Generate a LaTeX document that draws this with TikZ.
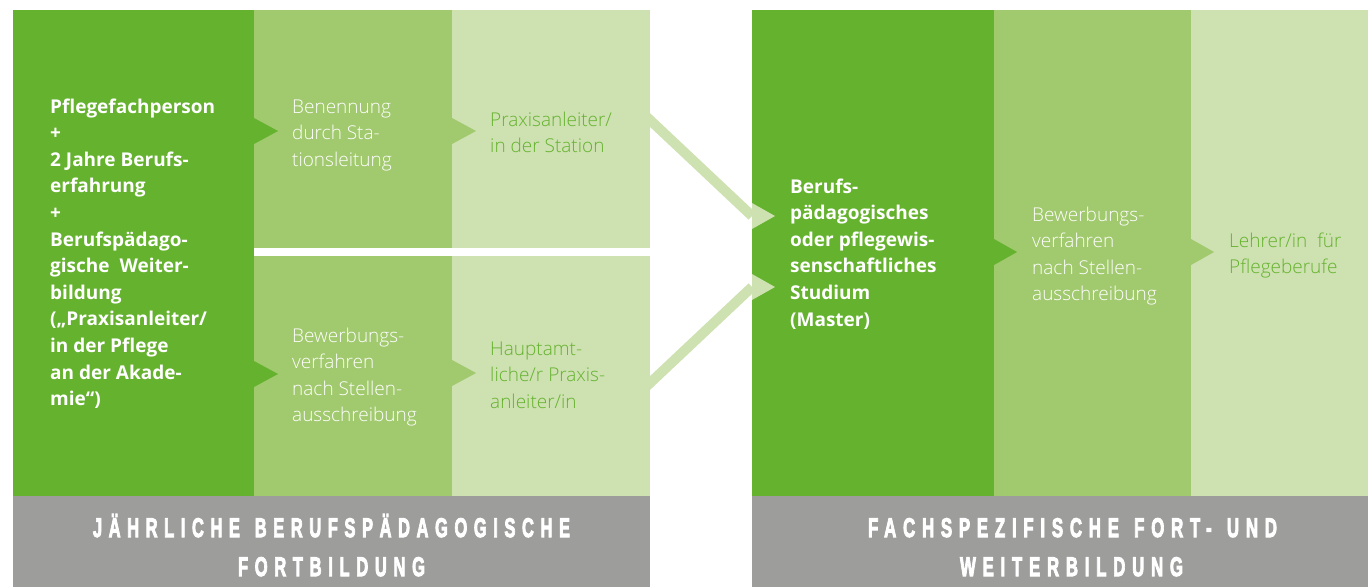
\documentclass[tikz,border=0pt]{standalone}
\usepackage{fontspec}
\usepackage{graphicx}
\setmainfont{Open Sans}
\IfFontExistsTF{Open Sans Light}{\newfontfamily\lightfont{Open Sans Light}}{\newfontfamily\lightfont{Open Sans}}
\newfontfamily\bannerfont[LetterSpace=40,FakeBold=4]{Liberation Sans Bold}
\definecolor{gDark}{HTML}{65B22E}
\definecolor{gMid}{HTML}{A1C96E}
\definecolor{gLight}{HTML}{CDE1B1}
\definecolor{bGray}{HTML}{9D9D9C}
\newcommand{\stack}[1]{\vtop{\baselineskip=26.6pt\lineskiplimit=-100pt\lineskip=0pt\halign{##\hfil\cr#1\crcr}}}
\newcommand{\wsp}{\hspace{0.9em}}
\tikzset{
  colbox/.style={draw=none, anchor=north west, inner sep=0pt, outer sep=0pt},
  boldtxt/.style={text=white, anchor=base west, inner sep=0pt, font=\fontsize{19}{26.6}\selectfont\bfseries},
  lighttxt/.style={text=white, anchor=base west, inner sep=0pt, font=\lightfont\fontsize{19}{26.6}\selectfont},
  greentxt/.style={lighttxt, text=gDark},
  bannertxt/.style={text=white, anchor=base, inner sep=0pt, font=\bannerfont\fontsize{27}{30}\selectfont},
  conn/.style={draw=gLight, line width=10pt},
}
\begin{document}
\begin{tikzpicture}[x=1pt,y=-1pt]
\useasboundingbox (0,0) rectangle (1368,587);
% left block
\node[colbox, fill=gDark, minimum width=241pt, minimum height=486pt] (L1) at (13,10) {};
\node[colbox, fill=gMid, minimum width=198pt, minimum height=238pt] (L2a) at (254,10) {};
\node[colbox, fill=gMid, minimum width=198pt, minimum height=240pt] (L2b) at (254,256) {};
\node[colbox, fill=gLight, minimum width=198pt, minimum height=238pt] (L3a) at (452,10) {};
\node[colbox, fill=gLight, minimum width=198pt, minimum height=240pt] (L3b) at (452,256) {};
\node[colbox, fill=bGray, minimum width=637pt, minimum height=91pt] (LB) at (13,496) {};
% right block
\node[colbox, fill=gDark, minimum width=242pt, minimum height=486pt] (R1) at (752,10) {};
\node[colbox, fill=gMid, minimum width=197pt, minimum height=486pt] (R2) at (994,10) {};
\node[colbox, fill=gLight, minimum width=177pt, minimum height=486pt] (R3) at (1191,10) {};
\node[colbox, fill=bGray, minimum width=616pt, minimum height=91pt] (RB) at (752,496) {};
% connectors
\coordinate (d1a) at (645,115.3);
\coordinate (d1b) at (752,216);
\coordinate (d2a) at (645,387.7);
\coordinate (d2b) at (752,287);
\draw[conn] (d1a) -- (d1b);
\draw[conn] (d2a) -- (d2b);
% triangles
\fill[gDark] (254,118) -- (278,131) -- (254,144) -- cycle;
\fill[gMid] (452,118) -- (476,131) -- (452,144) -- cycle;
\fill[gDark] (254,361) -- (278,374) -- (254,387) -- cycle;
\fill[gMid] (452,360) -- (476,373) -- (452,386) -- cycle;
\fill[gLight] (752,203) -- (775,216) -- (752,229) -- cycle;
\fill[gLight] (752,274) -- (775,287) -- (752,300) -- cycle;
\fill[gDark] (994,239) -- (1017,252) -- (994,265) -- cycle;
\fill[gMid] (1191,239) -- (1214,252) -- (1191,265) -- cycle;
% texts
\node[boldtxt] (t1) at (50,113) {\stack{Pflegefachperson\cr +\cr 2 Jahre Berufs-\cr erfahrung\cr +\cr Berufspädago-\cr gische\ \ Weiter-\cr bildung\cr („Praxisanleiter/\cr in der Pflege\cr an der Akade-\cr mie“)}};
\node[lighttxt] (t2) at (292,113) {\stack{Benennung\cr durch Sta-\cr tionsleitung}};
\node[greentxt] (t3) at (490,126) {\stack{Praxisanleiter/\cr in der Station}};
\node[lighttxt] (t4) at (292,342) {\stack{Bewerbungs-\cr verfahren\cr nach Stellen-\cr ausschreibung}};
\node[greentxt] (t5) at (490,355) {\stack{Hauptamt-\cr liche/r Praxis-\cr anleiter/in}};
\node[boldtxt] (t6) at (790,193) {\stack{Berufs-\cr pädagogisches\cr oder pflegewis-\cr senschaftliches\cr Studium\cr (Master)}};
\node[lighttxt] (t7) at (1032,221) {\stack{Bewerbungs-\cr verfahren\cr nach Stellen-\cr ausschreibung}};
\node[greentxt] (t8) at (1229,247) {\stack{Lehrer/in\ \ für\cr Pflegeberufe}};
% banners
\node[bannertxt] (b1) at (331.5,537) {\resizebox{477pt}{\height}{JÄHRLICHE\wsp BERUFSPÄDAGOGISCHE}};
\node[bannertxt] (b2) at (331.5,576) {\resizebox{187pt}{\height}{FORTBILDUNG}};
\node[bannertxt] (b3) at (1072.5,537) {\resizebox{409pt}{\height}{FACHSPEZIFISCHE\wsp FORT-\wsp UND}};
\node[bannertxt] (b4) at (1071.5,576) {\resizebox{223pt}{\height}{WEITERBILDUNG}};
\end{tikzpicture}
\end{document}
